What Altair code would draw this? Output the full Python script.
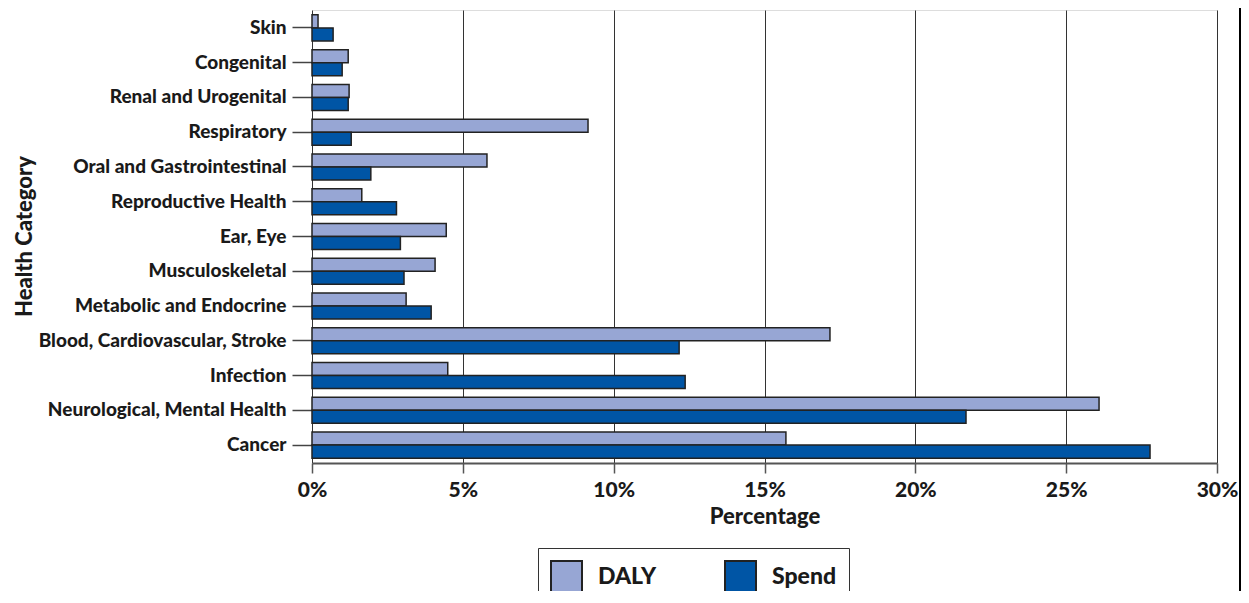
import altair as alt
import pandas as pd

categories = ["Skin", "Congenital", "Renal and Urogenital", "Respiratory",
              "Oral and Gastrointestinal", "Reproductive Health", "Ear, Eye",
              "Musculoskeletal", "Metabolic and Endocrine",
              "Blood, Cardiovascular, Stroke", "Infection",
              "Neurological, Mental Health", "Cancer"]
daly = [0.2, 1.2, 1.23, 9.15, 5.8, 1.65, 4.45, 4.08, 3.12, 17.17, 4.5, 26.09, 15.71]
spend = [0.7, 1.0, 1.2, 1.3, 1.95, 2.8, 2.93, 3.05, 3.95, 12.17, 12.37, 21.68, 27.78]
series = ["DALY", "Spend"]
colors = ["#97A6D4", "#0055A5"]
x_ticks = [0, 5, 10, 15, 20, 25, 30]

rows = []
for c, d, s in zip(categories, daly, spend):
    rows.append({"category": c, "series": "DALY", "value": d})
    rows.append({"category": c, "series": "Spend", "value": s})
df = pd.DataFrame(rows)

FONT = "Lato"
TXT = "#1a1a1a"

bars = alt.Chart(df).mark_bar(stroke="#222222", strokeWidth=1.5).encode(
    y=alt.Y("category:N", sort=categories,
            scale=alt.Scale(paddingInner=0.25, paddingOuter=0.14),
            axis=alt.Axis(title="Health Category", titleFontSize=22, titleFont=FONT,
                          titleFontWeight=900, titleColor=TXT,
                          titleX=-288, titleY=226, titleAngle=-90, titleBaseline="middle",
                          titleAlign="center",
                          labelFont=FONT, labelFontSize=19, labelFontWeight=900,
                          labelColor=TXT, labelPadding=6, tickSize=20,
                          tickColor="#444444", tickWidth=1.5, domain=False, labelLimit=400)),
    yOffset=alt.YOffset("series:N", sort=series),
    x=alt.X("value:Q", scale=alt.Scale(domain=[0, 30], nice=False),
            axis=alt.Axis(title="Percentage", values=x_ticks,
                          labelExpr="datum.value + '%'", labelFlush=False,
                          titleFontSize=22, titleFont=FONT, titleFontWeight=900,
                          titleColor=TXT, titlePadding=6,
                          labelFont=FONT, labelFontSize=21, labelFontWeight=900,
                          labelColor=TXT, labelPadding=6, tickSize=10,
                          tickColor="#555555", tickWidth=1.5,
                          domainColor="#555555", domainWidth=2,
                          grid=True, gridColor="#333333", gridWidth=1)),
    color=alt.Color("series:N", sort=series,
                    scale=alt.Scale(domain=series, range=colors),
                    legend=alt.Legend(title=None, orient="none", legendX=226, legendY=538,
                                      direction="horizontal", columns=2,
                                      symbolType="square", symbolSize=961,
                                      symbolStrokeColor="#222222", symbolStrokeWidth=2,
                                      symbolOpacity=1,
                                      labelFont=FONT, labelFontSize=23, labelFontWeight=900,
                                      labelColor=TXT, labelOffset=15,
                                      columnPadding=64, padding=12,
                                      strokeColor="#333333", fillColor="white")),
)

frame = alt.Chart(pd.DataFrame({"v": [0]})).mark_rule(
    color="black", strokeWidth=2, clip=False
).encode(x=alt.value(928), y=alt.value(-12), y2=alt.value(600))

chart = alt.layer(bars, frame).properties(
    width=905, height=453,
    padding={"left": 304, "top": 2, "right": 24, "bottom": 128},
    autosize=alt.AutoSizeParams(type="none"),
).configure_view(stroke="#555555", strokeWidth=2).configure(background="white")

chart.save("out.html", embed_options={"renderer": "svg", "actions": False})
